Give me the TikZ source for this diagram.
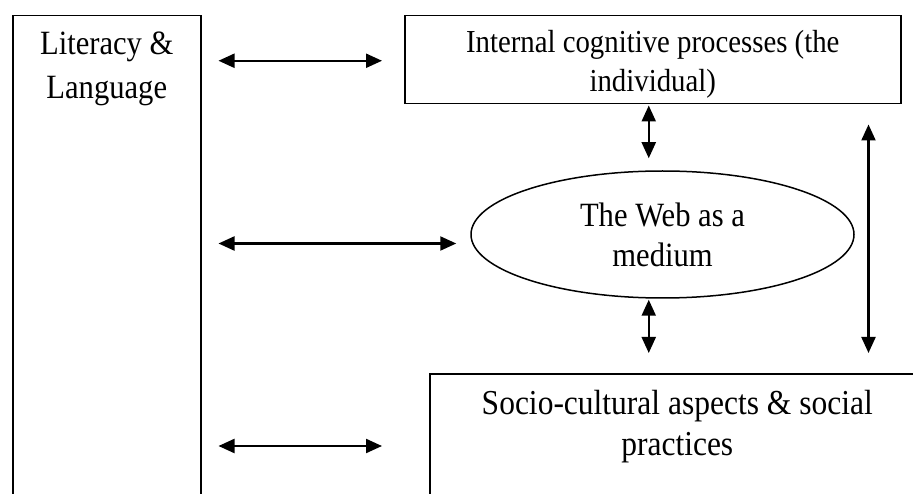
\documentclass[tikz,border=0pt]{standalone}
\usepackage{fontspec}
\setmainfont{Liberation Serif}[FakeStretch=0.9]
\usetikzlibrary{arrows.meta,shapes.geometric,calc}

\begin{document}
\begin{tikzpicture}[x=1pt,y=-1pt,
    box/.style = {draw, line width=1.5pt, inner sep=0pt, align=flush center, anchor=north west},
    link/.style = {line width=2.2pt, {Triangle[length=16pt,width=14pt]}-{Triangle[length=16pt,width=14pt]}}]
                \useasboundingbox (0,0) rectangle (913,494);
                \clip (0,0) rectangle (913,494);
                \node[box, text width=188pt, text height=39pt, text depth=480pt, font=\fontsize{34}{44}\selectfont] (lit) at (12,15) {Literacy \&\\Language};
                \node[box, text width=496pt, text height=37pt, text depth=51pt, font=\fontsize{32}{39}\selectfont] (top) at (404,15) {Internal cognitive processes (the\\individual)};
                \node[draw, ellipse, line width=1.5pt, inner sep=0pt, minimum width=383pt, minimum height=127pt, align=center, font=\fontsize{34}{40}\selectfont] (web) at (662.5,234.5) {The Web as a\\medium};
                \node[box, text width=495pt, text height=41pt, text depth=140pt, font=\fontsize{35}{41}\selectfont] (soc) at (429,373) {Socio-cultural aspects \& social\\practices};
                \draw[link] ($(lit.east |- top.west)+(17,1)$) -- ($(top.west)+(-22,1)$);
                \draw[link] ($(lit.east |- web.west)+(17,9)$) -- ($(web.west)+(-14,9)$);
                \draw[link] ($(lit.east |- soc.north west)+(17,73)$) -- ($(soc.north west)+(-47,73)$);
                \draw[link] ($(top.south)+(-4,1)$) -- ($(web.north -| top.south)+(-4,-12)$);
                \draw[link] ($(web.south -| top.south)+(-4,1)$) -- ($(soc.north -| top.south)+(-4,-20)$);
                \draw[link] ($(top.south east)+(-33,20)$) -- ($(top.south east |- soc.north)+(-33,-20)$);
            \end{tikzpicture}
\end{document}
